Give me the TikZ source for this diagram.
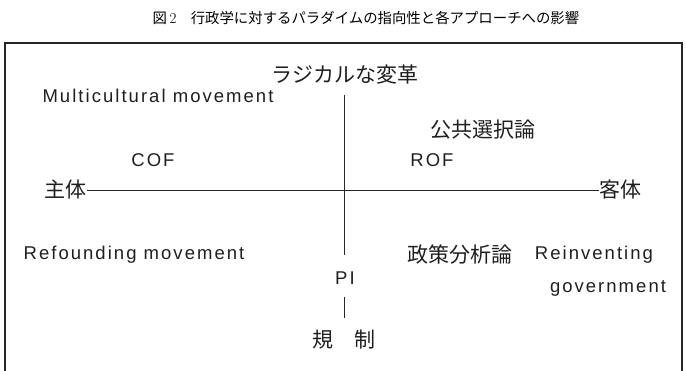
\documentclass[tikz,border=0pt]{standalone}
\usepackage{fontspec}
\newfontfamily\cjk{Noto Sans CJK JP}
\newfontfamily\lat{Liberation Sans}[LetterSpace=11]
\begin{document}
\begin{tikzpicture}[x=1pt,y=-1pt,
  jp/.style={font=\cjk\fontsize{21}{24}\selectfont, inner sep=0pt, text=black!88},
  en/.style={font=\lat\fontsize{18.5}{21}\selectfont, inner sep=0pt, text=black!88},
  axis/.style={line width=0.8pt, draw=black!85},
  frame/.style={line width=1.2pt, draw=black!85}]
\useasboundingbox (0,0) rectangle (686,371);
\node[font=\cjk\fontsize{14.4}{16}\selectfont, inner sep=0pt] (title) at (366,18) {図\,{\rmfamily\fontsize{15}{16}\selectfont 2}\quad 行政学に対するパラダイムの指向性と各アプローチへの影響};
\draw[frame] (5,371) |- (682,43) -- (682,371);
\node[jp] (rad) at (345,75) {ラジカルな変革};
\node[en] (multi) at (158,96) {Multicultural movement};
\node[en] (cof) at (153,160) {COF};
\node[jp] (kokyo) at (483,130) {公共選択論};
\node[en] (rof) at (432,160) {ROF};
\node[jp] (shutai) at (66,190) {主体};
\node[jp] (kyaku) at (620,190) {客体};
\node[en] (refound) at (134,255) {Refounding movement};
\node[jp] (seisaku) at (460,255) {政策分析論};
\node[en] (reinv) at (594,255) {Reinventing};
\node[en] (gov) at (608,288) {government};
\node[en] (pi) at (345,278) {PI};
\node[jp] (kisei) at (344,340) {規　制};
\coordinate (vtop) at (344,95);
\coordinate (vup) at (344,255);
\coordinate (vlow) at (344,297);
\coordinate (vbot) at (344,318);
\draw[axis] (shutai) -- (kyaku);
\draw[axis] (vtop) -- (vup);
\draw[axis] (vlow) -- (vbot);
\end{tikzpicture}
\end{document}
